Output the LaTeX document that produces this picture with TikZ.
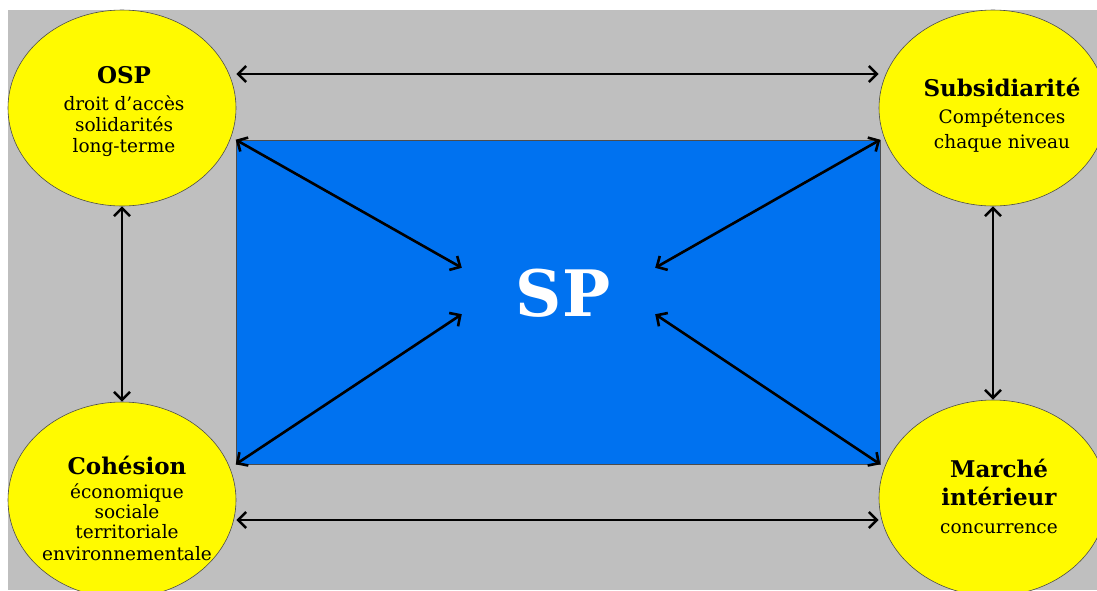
\documentclass[tikz,border=0pt]{standalone}
\usepackage{fontspec}
\setmainfont{DejaVu Serif}
\usetikzlibrary{shapes.geometric,arrows.meta}
\definecolor{bggray}{RGB}{191,191,191}
\definecolor{circyellow}{RGB}{255,250,0}
\definecolor{rectblue}{RGB}{0,114,240}
\tikzset{
  circ/.style={ellipse,draw=black!70,line width=0.6pt,fill=circyellow,minimum width=228pt,minimum height=196pt,inner sep=0pt},
  ttlf/.style={anchor=base,inner sep=0pt,font=\fontsize{23}{23}\selectfont\bfseries},
  body/.style={anchor=base,inner sep=0pt,font=\fontsize{18.5}{21}\selectfont},
  link/.style={line width=2.6pt,{Straight Barb[length=8pt,width=16pt]}-{Straight Barb[length=8pt,width=16pt]}},
}
\begin{document}
\begin{tikzpicture}[x=1pt,y=-1pt]
\useasboundingbox (0,0) rectangle (1097,590);
\fill[white] (0,0) rectangle (1097,590);
\fill[bggray] (8,10) rectangle (1097,590);
\node[draw=black!70,line width=0.6pt,fill=rectblue,minimum width=644pt,minimum height=324pt,inner sep=0pt] (rect) at (558,302) {};
\node[minimum width=193pt,minimum height=46pt,inner sep=0pt] (sp) at (558.5,291) {};
\node[anchor=base,inner sep=0pt,text=white,font=\fontsize{64}{64}\selectfont\bfseries] (spt) at (563,316) {SP};
\node[circ] (osp) at (122,108) {};
\node[circ] (subs) at (993,108) {};
\node[circ] (coh) at (122,500) {};
\node[circ] (mar) at (993,498) {};
% OSP
\node[ttlf] (osp1) at (124,83) {OSP};
\node[body] (osp2) at (124,110) {droit d’accès};
\node[body] (osp3) at (124,131) {solidarités};
\node[body] (osp4) at (124,152) {long-terme};
% Subsidiarite
\node[ttlf] (subs1) at (1002,96) {Subsidiarité};
\node[body] (subs2) at (1002,123) {Compétences};
\node[body] (subs3) at (1002,148) {chaque niveau};
% Cohesion
\node[ttlf] (coh1) at (127,474) {Cohésion};
\node[body] (coh2) at (127,498) {économique};
\node[body] (coh3) at (127,518) {sociale};
\node[body] (coh4) at (127,538) {territoriale};
\node[body] (coh5) at (127,560) {environnementale};
% Marche
\node[ttlf] (mar1) at (999,477) {Marché};
\node[ttlf] (mar2) at (999,505) {intérieur};
\node[body] (mar3) at (999,533) {concurrence};
\coordinate (ty) at (0,74);
\coordinate (by) at (0,520);
\draw[link] (osp.east |- ty) -- (subs.west |- ty);
\draw[link] (coh.east |- by) -- (mar.west |- by);
\draw[link] (osp.south) -- (coh.north);
\draw[link] (subs.south) -- (mar.north);
\draw[link] (rect.north west) -- (sp.north west);
\draw[link] (rect.north east) -- (sp.north east);
\draw[link] (rect.south west) -- (sp.south west);
\draw[link] (rect.south east) -- (sp.south east);
\end{tikzpicture}
\end{document}
